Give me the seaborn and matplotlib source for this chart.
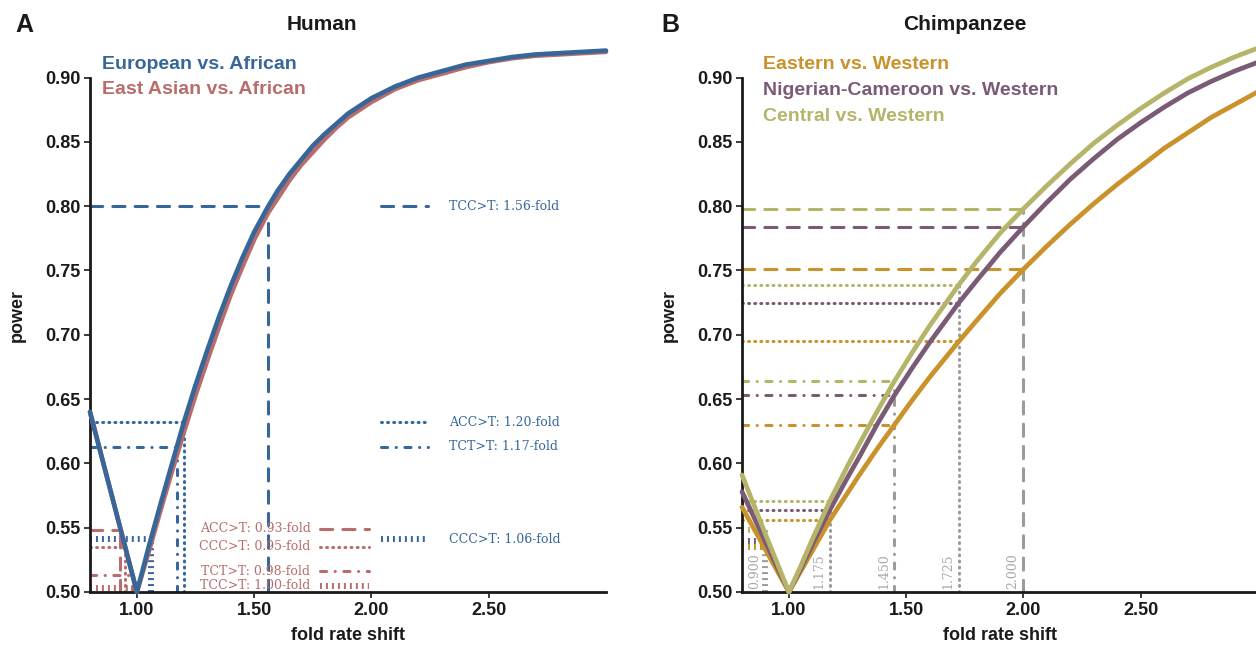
import matplotlib
matplotlib.use('Agg')
import matplotlib.pyplot as plt
from matplotlib.ticker import FormatStrFormatter
import seaborn as sns

# ---- Human panel: power vs fold rate shift ----
fold_human = [0.80, 0.85, 0.90, 0.95, 1.00, 1.05, 1.10, 1.15, 1.20, 1.25, 1.30, 1.35,
              1.40, 1.45, 1.50, 1.56, 1.60, 1.65, 1.70, 1.75, 1.80, 1.85, 1.90, 1.95,
              2.00, 2.10, 2.20, 2.30, 2.40, 2.50, 2.60, 2.70, 2.80, 2.90, 3.00]
power_eur_afr = [0.640, 0.605, 0.570, 0.535, 0.500, 0.535, 0.568, 0.600, 0.632, 0.661, 0.688, 0.714,
                 0.738, 0.760, 0.780, 0.800, 0.812, 0.825, 0.836, 0.847, 0.856, 0.864, 0.872, 0.878,
                 0.884, 0.893, 0.900, 0.905, 0.910, 0.913, 0.916, 0.918, 0.919, 0.920, 0.921]
power_eas_afr = [0.640, 0.605, 0.570, 0.535, 0.500, 0.531, 0.563, 0.594, 0.624, 0.653, 0.680, 0.706,
                 0.731, 0.753, 0.774, 0.795, 0.806, 0.820, 0.832, 0.842, 0.852, 0.861, 0.869, 0.875,
                 0.881, 0.891, 0.898, 0.903, 0.908, 0.912, 0.915, 0.917, 0.918, 0.919, 0.920]

eur_mut = ['TCC>T', 'ACC>T', 'TCT>T', 'CCC>T']
eur_fold = [1.56, 1.20, 1.17, 1.06]
eur_power = [0.800, 0.632, 0.613, 0.541]

eas_mut = ['ACC>T', 'CCC>T', 'TCT>T', 'TCC>T']
eas_fold = [0.93, 0.95, 0.98, 1.00]
eas_power = [0.548, 0.535, 0.513, 0.503]

# ---- Chimpanzee panel ----
fold_chimp = [0.80, 0.90, 1.00, 1.05, 1.10, 1.175, 1.25, 1.30, 1.375, 1.45, 1.525, 1.60,
              1.725, 1.80, 1.90, 2.00, 2.10, 2.20, 2.30, 2.40, 2.50, 2.60, 2.70, 2.80,
              2.90, 3.00]
power_eastern = [0.566, 0.533, 0.500, 0.516, 0.532, 0.556, 0.577, 0.591, 0.611, 0.630, 0.649, 0.667,
                 0.695, 0.711, 0.732, 0.751, 0.769, 0.786, 0.802, 0.817, 0.831, 0.845, 0.857, 0.869,
                 0.879, 0.889]
power_nigerian = [0.578, 0.539, 0.500, 0.518, 0.537, 0.564, 0.589, 0.605, 0.630, 0.653, 0.674, 0.694,
                  0.725, 0.742, 0.764, 0.784, 0.803, 0.821, 0.837, 0.852, 0.865, 0.877, 0.888, 0.897,
                  0.905, 0.912]
power_central = [0.591, 0.545, 0.500, 0.520, 0.541, 0.571, 0.598, 0.615, 0.640, 0.664, 0.686, 0.707,
                 0.739, 0.757, 0.779, 0.798, 0.816, 0.833, 0.849, 0.863, 0.876, 0.888, 0.899, 0.908,
                 0.916, 0.923]

shift_marks = [0.900, 1.175, 1.450, 1.725, 2.000]
eastern_at_marks = [0.535, 0.556, 0.630, 0.695, 0.751]
nigerian_at_marks = [0.540, 0.564, 0.653, 0.725, 0.784]
central_at_marks = [0.548, 0.571, 0.664, 0.739, 0.798]

BLUE = '#376699'
ROSE = '#b96c6c'
GOLD = '#c9922a'
PURPLE = '#7b5a76'
OLIVE = '#b5b56a'
GREY = '#9b9b9b'
INK = '#1a1a1a'

# (linestyle, capstyle, linewidth)
DASHED = ((0, (4, 3.3)), 'round', 2.2)
DOTTED = ((0, (0.3, 1.7)), 'round', 2.2)
DASHDOT = ((0, (2.0, 2.8, 0.05, 2.8)), 'round', 2.2)
BARS = ((0, (0.33, 0.67)), 'butt', 4.3)
human_styles = [DASHED, DOTTED, DASHDOT, BARS]
chimp_styles = [BARS, DOTTED, DASHDOT, DOTTED, DASHED]

sns.set_style('ticks')
plt.rcParams['font.family'] = ['Liberation Sans', 'DejaVu Sans']
plt.rcParams['font.weight'] = 'bold'
SERIF = ['DejaVu Serif']


def guide(ax, xs, ys, color, style):
    ls, cap, lw = style
    ax.plot(xs, ys, color=color, linestyle=ls, lw=lw,
            dash_capstyle=cap, solid_capstyle=cap, zorder=2)


def style_axes(ax):
    ax.set_xlim(0.8, 3.0)
    ax.set_ylim(0.5, 0.93)
    ax.set_xticks([1.0, 1.5, 2.0, 2.5])
    ax.set_yticks([0.50, 0.55, 0.60, 0.65, 0.70, 0.75, 0.80, 0.85, 0.90])
    ax.xaxis.set_major_formatter(FormatStrFormatter('%.2f'))
    ax.yaxis.set_major_formatter(FormatStrFormatter('%.2f'))
    sns.despine(ax=ax)
    ax.spines['left'].set_bounds(0.5, 0.9)
    for s in ['left', 'bottom']:
        ax.spines[s].set_linewidth(2.0)
        ax.spines[s].set_color(INK)
    ax.tick_params(length=4, width=1.2, labelsize=13, colors=INK, pad=3)
    ax.set_xlabel('fold rate shift', fontsize=13, fontweight='bold', color=INK, labelpad=6)
    ax.set_ylabel('power', fontsize=13, fontweight='bold', color=INK, labelpad=14)


fig = plt.figure(figsize=(12.56, 6.47), dpi=100)
axA = fig.add_axes([90 / 1256, 55 / 647, 516 / 1256, 553 / 647])
axB = fig.add_axes([742 / 1256, 55 / 647, 516 / 1256, 553 / 647])

# ---------------- A: Human ----------------
for f, p, st in zip(eur_fold, eur_power, human_styles):
    guide(axA, [0.8, f], [p, p], BLUE, st)
    guide(axA, [f, f], [0.5, p], BLUE, st)
for f, p, st in zip(eas_fold, eas_power, human_styles):
    guide(axA, [0.8, f], [p, p], ROSE, st)
    guide(axA, [f, f], [0.5, p], ROSE, st)

sns.lineplot(x=fold_human, y=power_eas_afr, color=ROSE, lw=3.3, ax=axA, zorder=4, clip_on=False)
sns.lineplot(x=fold_human, y=power_eur_afr, color=BLUE, lw=3.3, ax=axA, zorder=5, clip_on=False)

for f, p, mut, st in zip(eur_fold, eur_power, eur_mut, human_styles):
    guide(axA, [2.04, 2.24], [p, p], BLUE, st)
    axA.text(2.33, p, f'{mut}: {f:.2f}-fold', color=BLUE, family=SERIF, fontsize=9,
             fontweight='normal', ha='left', va='center')
rose_rows = [0.549, 0.535, 0.516, 0.505]
for f, row, mut, st in zip(eas_fold, rose_rows, eas_mut, human_styles):
    guide(axA, [1.78, 1.99], [row, row], ROSE, st)
    axA.text(1.74, row, f'{mut}: {f:.2f}-fold', color=ROSE, family=SERIF, fontsize=9,
             fontweight='normal', ha='right', va='center')

axA.text(0.851, 0.910, 'European vs. African', color=BLUE, fontsize=14, fontweight='bold', va='center')
axA.text(0.851, 0.891, 'East Asian vs. African', color=ROSE, fontsize=14, fontweight='bold', va='center')
style_axes(axA)

# ---------------- B: Chimpanzee ----------------
for vals, col in [(eastern_at_marks, GOLD), (nigerian_at_marks, PURPLE), (central_at_marks, OLIVE)]:
    for f, p, st in zip(shift_marks, vals, chimp_styles):
        guide(axB, [0.8, f], [p, p], col, st)
for i, f in enumerate(shift_marks):
    top = max(eastern_at_marks[i], nigerian_at_marks[i], central_at_marks[i])
    guide(axB, [f, f], [0.5, top], GREY, chimp_styles[i])
    axB.annotate(f'{f:.3f}', xy=(f, 0.5), xytext=(-3, 2), textcoords='offset points',
                 rotation=90, ha='right', va='bottom', color='#a8a8a8', family=SERIF,
                 fontsize=9, fontweight='normal')

sns.lineplot(x=fold_chimp, y=power_eastern, color=GOLD, lw=3.4, ax=axB, zorder=4, clip_on=False)
sns.lineplot(x=fold_chimp, y=power_nigerian, color=PURPLE, lw=3.4, ax=axB, zorder=5, clip_on=False)
sns.lineplot(x=fold_chimp, y=power_central, color=OLIVE, lw=3.4, ax=axB, zorder=6, clip_on=False)

axB.text(0.889, 0.910, 'Eastern vs. Western', color=GOLD, fontsize=14, fontweight='bold', va='center')
axB.text(0.889, 0.890, 'Nigerian-Cameroon vs. Western', color=PURPLE, fontsize=14, fontweight='bold', va='center')
axB.text(0.889, 0.870, 'Central vs. Western', color=OLIVE, fontsize=14, fontweight='bold', va='center')
style_axes(axB)

fig.text(24 / 1256, 1 - 25 / 647, 'A', fontsize=18, fontweight='bold', color=INK, ha='center', va='center')
fig.text(670 / 1256, 1 - 25 / 647, 'B', fontsize=18, fontweight='bold', color=INK, ha='center', va='center')
fig.text(322 / 1256, 1 - 25 / 647, 'Human', fontsize=15, fontweight='bold', color=INK, ha='center', va='center')
fig.text(965 / 1256, 1 - 25 / 647, 'Chimpanzee', fontsize=15, fontweight='bold', color=INK, ha='center', va='center')

fig.savefig('out.png', dpi=100)
